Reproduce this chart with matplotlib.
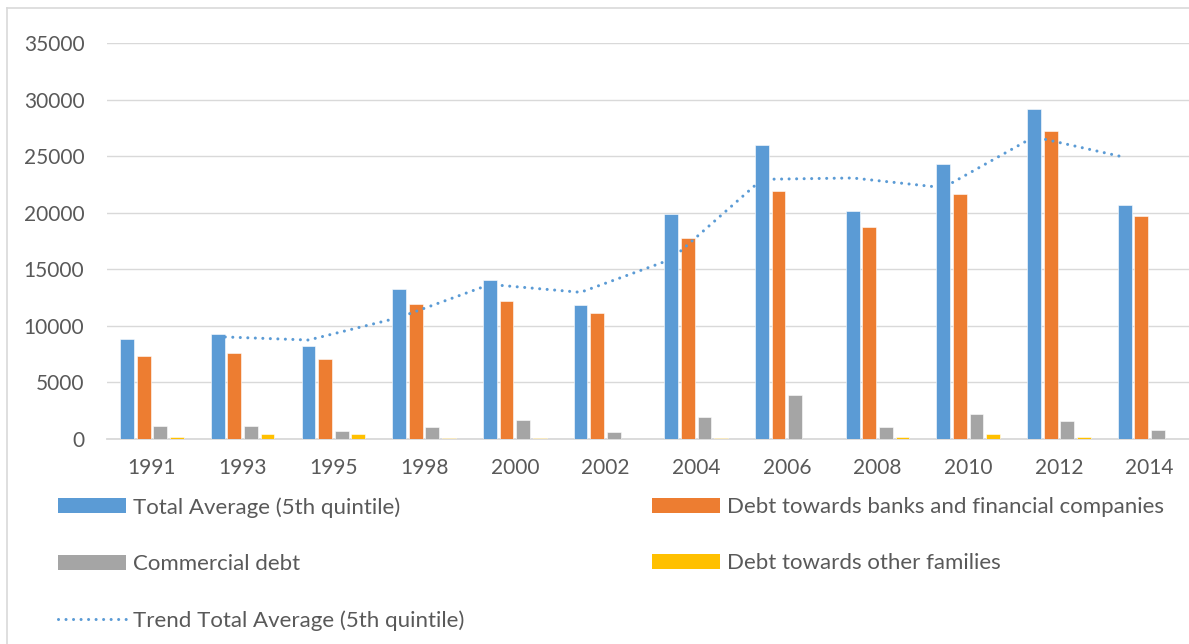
import matplotlib
matplotlib.use("Agg")
import matplotlib.pyplot as plt
import numpy as np
import pandas as pd
from matplotlib.lines import Line2D
from matplotlib.patches import Patch

plt.rcParams['font.family'] = ['Lato', 'DejaVu Sans']

years = ['1991', '1993', '1995', '1998', '2000', '2002', '2004', '2006', '2008', '2010', '2012', '2014']
total_avg = [8820, 9265, 8230, 13250, 14070, 11860, 19910, 25990, 20150, 24280, 29140, 20650]
debt_banks = [7345, 7610, 7080, 11950, 12210, 11150, 17790, 21950, 18760, 21620, 27230, 19680]
commercial = [1180, 1180, 735, 1060, 1680, 650, 1920, 3870, 1090, 2210, 1620, 825]
other_fam = [220, 400, 400, 110, 110, 0, 110, 40, 200, 460, 200, 40]

series_names = ['Total Average (5th quintile)', 'Debt towards banks and financial companies',
                'Commercial debt', 'Debt towards other families']
colors = ['#5B9BD5', '#ED7D31', '#A5A5A5', '#FFC000']
trend_name = 'Trend Total Average (5th quintile)'

# Excel moving-average trendline (period 2) of the total series
trend = pd.Series(total_avg).rolling(2).mean().to_numpy()

W, H = 1189, 644
fig = plt.figure(figsize=(W / 100, H / 100), dpi=100)
ax = fig.add_axes([106.6 / W, (H - 439) / H, (1195 - 106.6) / W, (439 - 43) / H])

x = np.arange(len(years))
pitch = 0.183
bw = 0.152
data = [total_avg, debt_banks, commercial, other_fam]
for k, (vals, c) in enumerate(zip(data, colors)):
    ax.bar(x + (k - 1.5) * pitch, vals, width=bw, color=c, edgecolor='white', linewidth=0.4, zorder=3)

ax.plot(x - 1.5 * pitch, trend, color='#5B9BD5', lw=2.2, linestyle=(0, (0.01, 2.45)),
        dash_capstyle='round', zorder=4)

ax.set_xlim(-0.5, len(years) - 0.5)
ax.set_ylim(0, 35000)
ax.set_yticks(np.arange(0, 35001, 5000))
ax.set_xticks(x)
ax.set_xticklabels(years)
ax.yaxis.grid(True, color='#D9D9D9', lw=1.0, zorder=0)
ax.set_axisbelow(True)
for s in ['top', 'right', 'left']:
    ax.spines[s].set_visible(False)
ax.spines['bottom'].set_color('#D9D9D9')
ax.spines['bottom'].set_linewidth(1.3)
ax.spines['bottom'].set_zorder(2)
ax.tick_params(axis='both', length=0, colors='#595959', labelsize=15)
ax.tick_params(axis='y', pad=16)
ax.tick_params(axis='x', pad=14)

# legend: two columns
fs = 16
h_total = Patch(facecolor=colors[0])
h_banks = Patch(facecolor=colors[1])
h_comm = Patch(facecolor=colors[2])
h_other = Patch(facecolor=colors[3])
h_trend = Line2D([], [], color='#5B9BD5', lw=2.2, linestyle=(0, (0.01, 2.45)), dash_capstyle='round')
common = dict(frameon=False, fontsize=fs, handlelength=3.06, handleheight=0.675,
              handletextpad=0.31, labelspacing=1.64, borderpad=0, borderaxespad=0,
              labelcolor='#595959', loc='upper left')
fig.legend([h_total, h_comm, h_trend], [series_names[0], series_names[2], trend_name],
           bbox_to_anchor=(58 / W, 1 - 497 / H), **common)
fig.legend([h_banks, h_other], [series_names[1], series_names[3]],
           bbox_to_anchor=(652 / W, 1 - 497 / H), **common)

# chart border (left and top visible)
fig.add_artist(Line2D([6.5 / W, 6.5 / W], [0, 1 - 8 / H], color='#D9D9D9', lw=1.2, transform=fig.transFigure))
fig.add_artist(Line2D([6.5 / W, 1], [1 - 8 / H, 1 - 8 / H], color='#D9D9D9', lw=1.2, transform=fig.transFigure))

fig.savefig('out.png', dpi=100, facecolor='white')
